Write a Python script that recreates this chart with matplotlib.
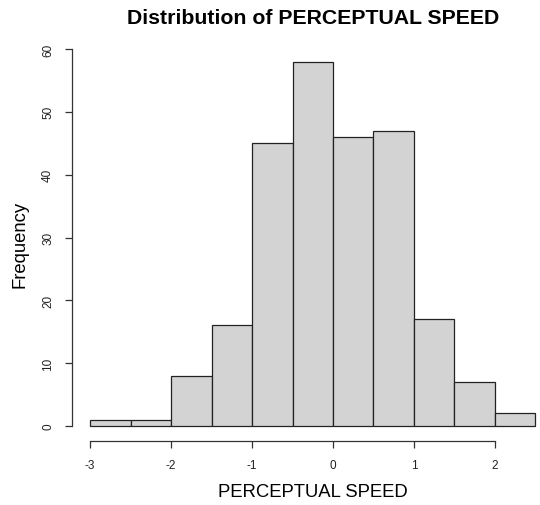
import numpy as np
import matplotlib.pyplot as plt

plt.rcParams['font.family'] = ['Liberation Sans', 'DejaVu Sans']

# histogram bins and counts
breaks = [-3.0, -2.5, -2.0, -1.5, -1.0, -0.5, 0.0, 0.5, 1.0, 1.5, 2.0, 2.5]
counts = [1, 1, 8, 16, 45, 58, 46, 47, 17, 7, 2]
xticks = [-3, -2, -1, 0, 1, 2]
yticks = [0, 10, 20, 30, 40, 50, 60]

W, H = 540, 506
fig = plt.figure(figsize=(W / 100, H / 100), dpi=100)

# plot region like R: xlim/ylim extended by 4%
x0, x1 = breaks[0], breaks[-1]
dx = (x1 - x0) * 0.04
dy = max(counts) * 0.04
left_px, right_px = 72.2, 553.3
top_px, bot_px = 48.0, 441.6
ax = fig.add_axes([left_px / W, 1 - bot_px / H, (right_px - left_px) / W, (bot_px - top_px) / H])

widths = np.diff(breaks)
ax.bar(breaks[:-1], counts, width=widths, align='edge', color='#d3d3d3',
       edgecolor='#222222', linewidth=0.9)

ax.set_xlim(x0 - dx, x1 + dx)
ax.set_ylim(-dy, max(counts) + dy)

for s in ['top', 'right']:
    ax.spines[s].set_visible(False)
ax.spines['bottom'].set_bounds(-3, 2)
ax.spines['left'].set_bounds(0, 60)
for s in ['bottom', 'left']:
    ax.spines[s].set_color('#333333')
    ax.spines[s].set_linewidth(0.9)

ax.set_xticks(xticks)
ax.set_yticks(yticks)
ax.tick_params(axis='both', length=5, width=0.9, color='#333333', labelsize=8.5,
               labelcolor='#222222', pad=8)
ax.set_yticklabels([str(v) for v in yticks], rotation=90, va='center')
ax.set_xticklabels([str(v) for v in xticks])

ax.set_xlabel('PERCEPTUAL SPEED', fontsize=13.3, labelpad=9)
ax.set_ylabel('Frequency', fontsize=13.3, labelpad=10)
fig.text(313 / W, 1 - 18 / H, 'Distribution of PERCEPTUAL SPEED', ha='center',
         va='center', fontsize=15.3, fontweight='bold')

fig.savefig('out.png', dpi=100)
